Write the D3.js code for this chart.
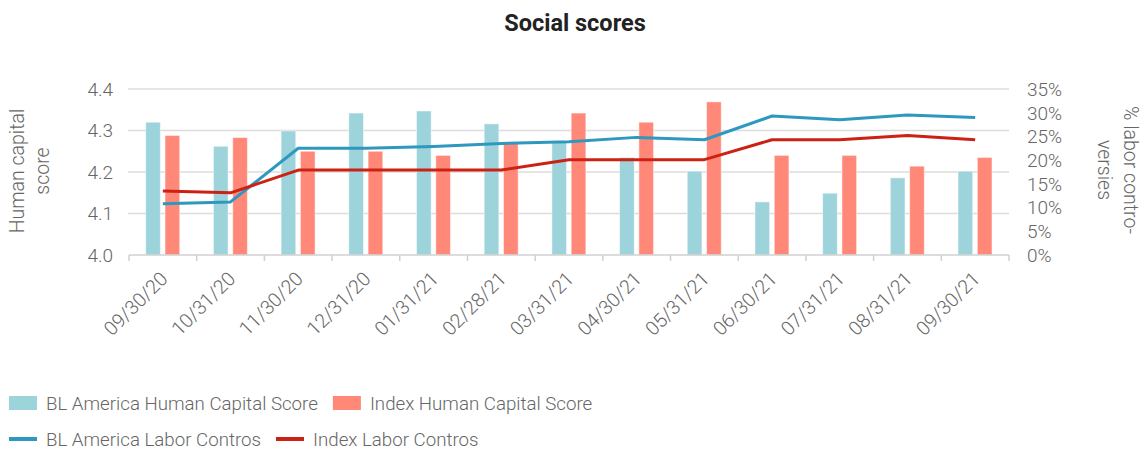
<!DOCTYPE html>
<html><head><meta charset="utf-8">
<script src="https://cdn.jsdelivr.net/npm/d3@7"></script>
<style>
body{margin:0;background:#fff;}
svg text{font-family:Roboto,"Liberation Sans",sans-serif;}
</style>
</head><body>
<svg id="c" width="1148" height="451"></svg>
<script>
const dates = ["09/30/20","10/31/20","11/30/20","12/31/20","01/31/21","02/28/21","03/31/21","04/30/21","05/31/21","06/30/21","07/31/21","08/31/21","09/30/21"];
const blScore  = [4.320,4.262,4.299,4.342,4.347,4.316,4.272,4.235,4.202,4.128,4.149,4.186,4.202];
const idxScore = [4.288,4.283,4.250,4.250,4.240,4.272,4.342,4.320,4.369,4.240,4.240,4.214,4.235];
const blContros  = [10.8,11.2,22.5,22.5,22.9,23.5,23.9,24.8,24.3,29.3,28.5,29.5,29.0];
const idxContros = [13.5,13.1,17.9,17.9,17.9,17.9,20.1,20.1,20.1,24.3,24.3,25.2,24.3];
const leftTicks  = [4.0,4.1,4.2,4.3,4.4];
const rightTicks = [0,5,10,15,20,25,30,35];
const seriesNames = ["BL America Human Capital Score","Index Human Capital Score","BL America Labor Contros","Index Labor Contros"];

const C = {bl:"#9dd3da", idx:"#ff8878", blLine:"#2e98be", idxLine:"#cc2214", text:"#666", grid:"#dcdcdc"};

const svg = d3.select("#c");
const L = 129, R = 1009, T = 89, B = 255;

const x = d3.scaleBand().domain(dates).range([L, R]);
const bw = x.bandwidth();
const x1 = d3.scaleBand().domain(["bl","idx"]).range([bw*0.247, bw*0.749]).paddingInner(0.24);
const yL = d3.scaleLinear().domain([4.0,4.4]).range([B, T]);
const yR = d3.scaleLinear().domain([0,35]).range([B, T]);

// gridlines
svg.append("g").selectAll("line").data(leftTicks.slice(1)).join("line")
  .attr("x1", L-1).attr("x2", R).attr("y1", d=>yL(d)).attr("y2", d=>yL(d))
  .attr("stroke", C.grid).attr("stroke-width", 1.5);

// left axis labels
const fmt1 = d3.format(".1f");
svg.append("g").selectAll("text").data(leftTicks).join("text")
  .attr("x", 113).attr("y", d=>yL(d)).attr("dy","0.36em")
  .attr("text-anchor","end").attr("font-size",19).attr("font-weight",300)
  .attr("fill", C.text).text(d=>fmt1(d));

// right axis labels
svg.append("g").selectAll("text").data(rightTicks).join("text")
  .attr("x", 1027).attr("y", d=>yR(d)).attr("dy","0.36em")
  .attr("text-anchor","start").attr("font-size",19).attr("font-weight",300)
  .attr("fill", C.text).text(d=>d+"%");

// bars
const g = svg.append("g");
dates.forEach((d,i)=>{
  g.append("rect").attr("x", x(d)+x1("bl")).attr("width", x1.bandwidth())
    .attr("y", yL(blScore[i])).attr("height", B - yL(blScore[i]))
    .attr("fill", C.bl).attr("stroke","#fff").attr("stroke-opacity",0.5).attr("stroke-width",1);
  g.append("rect").attr("x", x(d)+x1("idx")).attr("width", x1.bandwidth())
    .attr("y", yL(idxScore[i])).attr("height", B - yL(idxScore[i]))
    .attr("fill", C.idx).attr("stroke","#fff").attr("stroke-opacity",0.5).attr("stroke-width",1);
});

// bottom axis
svg.append("line").attr("x1",L).attr("x2",R).attr("y1",B).attr("y2",B)
  .attr("stroke","#d0d0d0").attr("stroke-width",1.5);
const bounds = dates.map(d=>x(d)).concat([R]);
svg.append("g").selectAll("line").data(bounds).join("line")
  .attr("x1",d=>d).attr("x2",d=>d).attr("y1",B).attr("y2",B+6)
  .attr("stroke","#d0d0d0").attr("stroke-width",1.5);

// x labels
svg.append("g").selectAll("text").data(dates).join("text")
  .attr("transform", d=>`translate(${x(d)+bw/2+6},${280}) rotate(-45)`)
  .attr("text-anchor","end").attr("font-size",19.5).attr("font-weight",300)
  .attr("fill", C.text).text(d=>d);

// lines
const line = d3.line().x((v,i)=>x(dates[i])+bw/2).y(v=>yR(v));
svg.append("path").datum(blContros).attr("d", line).attr("fill","none")
  .attr("stroke", C.blLine).attr("stroke-width",3).attr("stroke-linejoin","round");
svg.append("path").datum(idxContros).attr("d", line).attr("fill","none")
  .attr("stroke", C.idxLine).attr("stroke-width",3).attr("stroke-linejoin","round");

// title
svg.append("text").attr("x",575).attr("y",31).attr("text-anchor","middle")
  .attr("font-size",23.5).attr("font-weight",700).attr("fill","#222").text("Social scores");

// axis titles
const lt = svg.append("text").attr("transform","translate(0,171) rotate(-90)")
  .attr("text-anchor","middle").attr("font-size",19.5).attr("font-weight",300).attr("fill",C.text);
lt.append("tspan").attr("x",0).attr("y",23.5).text("Human capital");
lt.append("tspan").attr("x",0).attr("y",49).text("score");

const rt = svg.append("text").attr("transform","translate(1124,170) rotate(90)")
  .attr("text-anchor","middle").attr("font-size",19.5).attr("font-weight",300).attr("fill",C.text);
rt.append("tspan").attr("x",0).attr("y",0).text("% labor contro-");
rt.append("tspan").attr("x",0).attr("y",26).text("versies");

// legend
const leg = svg.append("g");
function legendRow(items, yMid, startX){
  let cx = startX;
  items.forEach(it=>{
    if(it.type==="rect"){
      leg.append("rect").attr("x",cx).attr("y",yMid-7).attr("width",28).attr("height",14).attr("fill",it.color);
    } else {
      leg.append("line").attr("x1",cx).attr("x2",cx+28).attr("y1",yMid).attr("y2",yMid)
        .attr("stroke",it.color).attr("stroke-width",4);
    }
    const t = leg.append("text").attr("x",cx+37).attr("y",yMid).attr("dy","0.36em")
      .attr("font-size",18.7).attr("font-weight",300).attr("fill",C.text).text(it.name);
    cx = cx + 37 + t.node().getComputedTextLength() + 15;
  });
}
legendRow([{type:"rect",color:C.bl,name:seriesNames[0]},{type:"rect",color:C.idx,name:seriesNames[1]}], 403, 9);
legendRow([{type:"line",color:C.blLine,name:seriesNames[2]},{type:"line",color:C.idxLine,name:seriesNames[3]}], 439, 9);
</script>
</body></html>
